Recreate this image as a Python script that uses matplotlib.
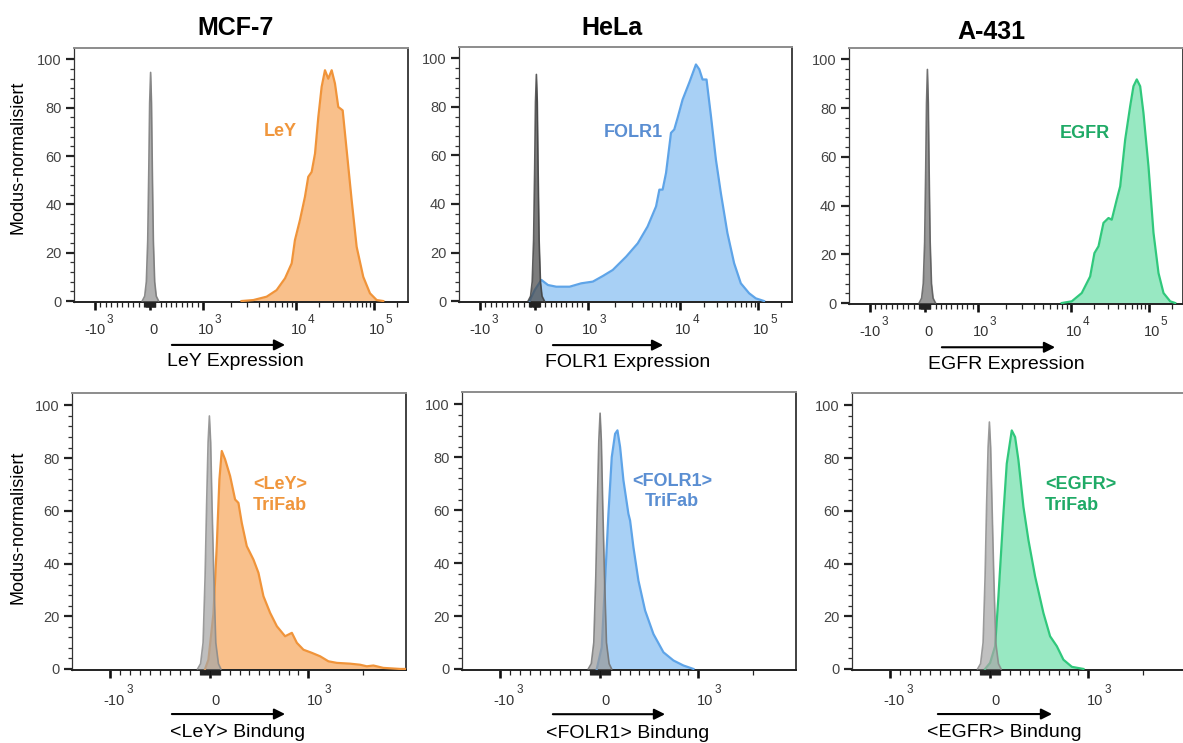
import numpy as np
import matplotlib
matplotlib.use("Agg")
import matplotlib.pyplot as plt
from matplotlib.ticker import FixedLocator

plt.rcParams["font.family"] = ["Liberation Sans", "DejaVu Sans"]

# ---- histogram data (fluorescence intensity vs. mode-normalised count) ----
# top row: surface antigen expression
MCF7_CTRL_X = [-140, -95, -65, -40, -20, -5, 13, 30, 45, 65, 90, 120, 165]
MCF7_CTRL_Y = [0, 2, 8, 25, 55, 82, 94.6, 82, 55, 25, 8, 2, 0]
MCF7_LEY_X = [2600, 3480, 4840, 6190, 7630, 9000, 9750, 11250, 13040, 14380,
              15890, 17550, 19330, 21340, 23550, 25950, 28700, 31620, 34860,
              39700, 44670, 51760, 60000, 72900, 88900, 108300, 131600]
MCF7_LEY_Y = [0, 0.4, 1.8, 4.5, 9.4, 15.6, 25.2, 33.5, 43.1, 51.4,
              53.4, 61, 76, 88.6, 95.5, 92, 95.5, 90, 80.3,
              78.9, 62.4, 41.7, 22.4, 10, 3.2, 0.4, 0]

HELA_CTRL_X = [-120, -75, -45, -20, 0, 15, 32, 49, 64, 84, 109, 139, 185]
HELA_CTRL_Y = [0, 2, 8, 25, 55, 82, 93.4, 82, 55, 25, 8, 2, 0]
HELA_FOLR1_X = [-94, 0, 126, 251, 409, 660, 881, 1140, 1460, 1870, 2610,
                3480, 4440, 5480, 5950, 6450, 7020, 7940, 8610, 9360, 10700,
                13040, 15890, 17550, 19330, 21740, 24790, 28700, 33220,
                40360, 49200, 60000, 76740, 93500, 119400]
HELA_FOLR1_Y = [0, 4.5, 8.7, 6.6, 5.9, 5.9, 7.3, 8, 10.3, 12.8, 18.3,
                23.8, 30.7, 39, 45.9, 45.9, 52.8, 69.3, 70.7, 75.5, 83,
                90, 97.5, 95.5, 91.3, 91.3, 76.2, 58.3, 44.5,
                28, 15.6, 7.3, 3.2, 1.1, 0]

A431_CTRL_X = [-105, -60, -30, -5, 15, 30, 47, 64, 79, 99, 124, 154, 200]
A431_CTRL_Y = [0, 2, 8, 25, 55, 82, 95.9, 82, 55, 25, 8, 2, 0]
A431_EGFR_X = [7960, 10240, 13750, 17620, 20000, 22550, 26120, 30280, 33340,
               38650, 42760, 49550, 57410, 63270, 69770, 77120, 84940, 98550,
               114300, 132500, 153600, 187100, 216900]
A431_EGFR_Y = [0, 0.7, 4.1, 10.9, 20.5, 23.3, 32.9, 34.9, 34.2,
               42.5, 47.9, 67.1, 80.8, 89, 91.8, 89, 78.1, 56.1,
               28.8, 12.3, 4.1, 0.7, 0]

# bottom row: TriFab binding
LEY_CTRL_X = [-125, -95, -70, -50, -35, -20, -7, 6, 20, 38, 58, 85, 110]
LEY_CTRL_Y = [0, 2, 10, 35, 62, 86, 96, 86, 62, 35, 10, 2, 0]
LEY_TRIFAB_X = [-50, -17, 34, 68, 95, 119, 153, 204, 255, 289, 323, 374, 442,
                493, 544, 612, 681, 765, 834, 885, 952, 1048, 1163, 1291,
                1435, 1696, 1924, 2093, 2275, 2577, 3184, 3390]
LEY_TRIFAB_Y = [0, 3.5, 21, 46.6, 71.9, 82.7, 79.5, 73.2, 64.3, 63, 55.4,
                46.6, 41.5, 36.5, 27.6, 21.3, 16.2, 12.4, 13.7, 9.9, 7.3,
                6.1, 4.8, 2.9, 2.3, 2.0, 1.6, 1.0, 1.3, 0.4, 0, 0]

FOLR1_CTRL_X = [-118, -88, -63, -43, -28, -13, 0, 13, 27, 45, 65, 92, 118]
FOLR1_CTRL_Y = [0, 2, 10, 35, 62, 86, 96.7, 86, 62, 35, 10, 2, 0]
FOLR1_TRIFAB_X = [-33, 17, 51, 85, 119, 153, 177, 204, 238, 289, 306, 340,
                  391, 459, 544, 646, 748, 850, 952]
FOLR1_TRIFAB_Y = [0, 8.2, 33.4, 58.6, 80.1, 88.9, 90.2, 83.9, 71.3, 58.6,
                  56.1, 46, 33.4, 22.1, 13.2, 6.3, 3.2, 1.3, 0]

EGFR_CTRL_X = [-125, -95, -70, -50, -35, -20, -7, 6, 20, 38, 58, 85, 112]
EGFR_CTRL_Y = [0, 2, 10, 35, 62, 84, 93.7, 84, 62, 35, 10, 2, 0]
EGFR_TRIFAB_X = [-50, 0, 51, 85, 136, 170, 221, 255, 289, 340, 391, 459, 544,
                 612, 681, 748, 834, 952]
EGFR_TRIFAB_Y = [0, 2.3, 8.6, 27.5, 59, 77.9, 90.5, 88, 79.2, 61.5, 48.9,
                 35.1, 21.2, 12.4, 8.6, 3.5, 0.8, 0]

CELL_LINES = ["MCF-7", "HeLa", "A-431"]
MARKERS = ["LeY", "FOLR1", "EGFR"]

# ---- biexponential-like x axis: linear within +-1e3, log outside ----
LIN = 1000.0


def warp(x):
    x = np.asarray(x, dtype=float)
    a = np.abs(x) / LIN
    return np.where(a <= 1, x / LIN, np.sign(x) * (1 + np.log10(np.maximum(a, 1))))


def unwarp(w):
    w = np.asarray(w, dtype=float)
    a = np.clip(np.abs(w), 0, 12)
    return np.where(a <= 1, w * LIN, np.sign(w) * LIN * 10 ** (np.maximum(a, 1) - 1))


def lerp(v, xp, fp):
    v = np.asarray(v, dtype=float)
    xp = np.asarray(xp, dtype=float)
    fp = np.asarray(fp, dtype=float)
    out = np.interp(v, xp, fp)
    lo = (fp[1] - fp[0]) / (xp[1] - xp[0])
    hi = (fp[-1] - fp[-2]) / (xp[-1] - xp[-2])
    out = np.where(v < xp[0], fp[0] + (v - xp[0]) * lo, out)
    out = np.where(v > xp[-1], fp[-1] + (v - xp[-1]) * hi, out)
    return out


def biex(anchor_vals, anchor_pos):
    wa = warp(anchor_vals)

    def fwd(x):
        return lerp(warp(x), wa, anchor_pos)

    def inv(p):
        return unwarp(lerp(p, anchor_pos, wa))

    return fwd, inv


TOP_SCALE = biex([-1000, 0, 1000, 1e4, 1e5], [21, 76, 129, 222, 300])
BOT_SCALE = biex([-1000, 0, 1000, 2000], [38, 138, 236, 291])
TOP_XLIM = (-2400, 2.73e5)
BOT_XLIM = (-2400, 3430)

small = list(range(10, 100, 10)) + list(range(100, 1000, 100))
# major ticks as (value, mantissa text, exponent text)
TOP_MAJOR = [(-1000, "-10", "3"), (0, "0", ""), (1000, "10", "3"),
             (1e4, "10", "4"), (1e5, "10", "5")]
TOP_MINOR = ([-v for v in small] + small + list(range(2000, 10000, 1000))
             + list(range(20000, 100000, 10000)) + [200000])
BOT_MAJOR = [(-1000, "-10", "3"), (0, "0", ""), (1000, "10", "3")]
BOT_MINOR = [-v for v in small] + small + [2000]

W, H = 1183, 743
fig = plt.figure(figsize=(W / 100, H / 100), dpi=100)


def rect(left, top, width, height):
    return [left / W, 1 - (top + height) / H, width / W, height / H]


AX_RECTS = [(74, 48, 334, 254), (459, 47, 333, 255), (849, 48, 334, 256),
            (72, 393, 334, 277), (462, 392, 334, 278), (852, 393, 334, 277)]

top_data = [
    (MCF7_CTRL_X, MCF7_CTRL_Y, MCF7_LEY_X, MCF7_LEY_Y),
    (HELA_CTRL_X, HELA_CTRL_Y, HELA_FOLR1_X, HELA_FOLR1_Y),
    (A431_CTRL_X, A431_CTRL_Y, A431_EGFR_X, A431_EGFR_Y),
]
bot_data = [
    (LEY_CTRL_X, LEY_CTRL_Y, LEY_TRIFAB_X, LEY_TRIFAB_Y),
    (FOLR1_CTRL_X, FOLR1_CTRL_Y, FOLR1_TRIFAB_X, FOLR1_TRIFAB_Y),
    (EGFR_CTRL_X, EGFR_CTRL_Y, EGFR_TRIFAB_X, EGFR_TRIFAB_Y),
]

FILL = ["#f9c08b", "#a8d0f5", "#98e8c2"]
EDGE = ["#f0943a", "#5ea4e8", "#30c87c"]
TEXT_C = ["#f0963c", "#5a8ed2", "#1faa66"]
GRAY_FILL = ["#909090", "#4a4a4a", "#707070", "#a6a6a6", "#9a9a9a", "#a8a8a8"]
GRAY_EDGE = ["#767676", "#404040", "#5a5a5a", "#8a8a8a", "#727272", "#8a8a8a"]

# (x, y) in axes fraction for the arrow and the axis caption
TOP_ARROWS = [(0.293, 0.632), (0.282, 0.613), (0.278, 0.617)]
BOT_ARROWS = [(0.299, 0.638), (0.272, 0.608), (0.257, 0.599)]
TOP_XLAB_X = [0.482, 0.507, 0.47]
BOT_XLAB_X = [0.496, 0.497, 0.455]
TOP_TAG = [(0.617, 0.673), (0.523, 0.665), (0.707, 0.665)]
BOT_TAG = [(0.623, 0.632, "center"), (0.629, 0.643, "center"), (0.578, 0.632, "left")]

# x tick label placement in pixels: (right edge of mantissa, offset of "0",
# mantissa baseline below spine, exponent baseline below spine)
TICKLAB_TOP = (11, 4, 32, 21)
TICKLAB_BOT = (15, 5, 35, 23)


def power_labels(ax, majors, place):
    right, zero_dx, base_dy, sup_dy = place
    for val, mant, exp in majors:
        if not exp:
            ax.annotate(mant, xy=(val, 0), xycoords=("data", "axes fraction"),
                        xytext=(zero_dx, -base_dy), textcoords="offset pixels",
                        ha="center", va="baseline", fontsize=10.5, color="#333333",
                        annotation_clip=False)
            continue
        ax.annotate(mant, xy=(val, 0), xycoords=("data", "axes fraction"),
                    xytext=(right, -base_dy), textcoords="offset pixels",
                    ha="right", va="baseline", fontsize=10.5, color="#333333",
                    annotation_clip=False)
        ax.annotate(exp, xy=(val, 0), xycoords=("data", "axes fraction"),
                    xytext=(right + 1, -sup_dy), textcoords="offset pixels",
                    ha="left", va="baseline", fontsize=8.5, color="#333333",
                    annotation_clip=False)


for i in range(6):
    row, col = divmod(i, 3)
    ax = fig.add_axes(rect(*AX_RECTS[i]))
    ax.set_xscale("function", functions=TOP_SCALE if row == 0 else BOT_SCALE)
    ax.set_xlim(*(TOP_XLIM if row == 0 else BOT_XLIM))
    ax.set_ylim(-0.4, 104.7)

    cx, cy, sx, sy = (top_data if row == 0 else bot_data)[col]
    ax.fill_between(sx, sy, 0, color=FILL[col], lw=0, zorder=2)
    ax.plot(sx, sy, color=EDGE[col], lw=1.6, zorder=3)
    ax.fill_between(cx, cy, 0, color=GRAY_FILL[i], alpha=0.72, lw=0, zorder=4)
    ax.plot(cx, cy, color=GRAY_EDGE[i], lw=1.2, alpha=0.85, zorder=5)

    # axes frame
    ax.spines["top"].set_color("#8c8c8c")
    ax.spines["top"].set_linewidth(1.4)
    ax.spines["right"].set_color("#333333")
    ax.spines["right"].set_linewidth(1.3)
    ax.spines["left"].set_color("#333333")
    ax.spines["left"].set_linewidth(0.9)
    ax.spines["bottom"].set_color("#222222")
    ax.spines["bottom"].set_linewidth(1.4)

    # y ticks
    ax.yaxis.set_major_locator(FixedLocator([0, 20, 40, 60, 80, 100]))
    ax.yaxis.set_minor_locator(FixedLocator([v for v in range(4, 100, 4) if v % 20]))
    ax.tick_params(axis="y", which="major", length=6, width=1.6, pad=3,
                   color="#222222", labelsize=10.5, labelcolor="#444444")
    ax.tick_params(axis="y", which="minor", length=3, width=0.9, color="#333333")

    # x ticks, labelled by hand as 10 with a raised exponent
    majors = TOP_MAJOR if row == 0 else BOT_MAJOR
    ax.xaxis.set_major_locator(FixedLocator([m[0] for m in majors]))
    ax.xaxis.set_minor_locator(FixedLocator(TOP_MINOR if row == 0 else BOT_MINOR))
    ax.tick_params(axis="x", which="major", length=6, width=1.9,
                   color="#111111", labelbottom=False)
    ax.tick_params(axis="x", which="minor", length=3.6, width=0.9, color="#222222")
    power_labels(ax, majors, TICKLAB_TOP if row == 0 else TICKLAB_BOT)

    # direction arrow and caption under the x axis
    x0, x1 = (TOP_ARROWS if row == 0 else BOT_ARROWS)[col]
    ay = -0.169 if row == 0 else -0.159
    ax.annotate("", xy=(x1, ay), xytext=(x0, ay), xycoords="axes fraction",
                annotation_clip=False,
                arrowprops=dict(arrowstyle="-|>", color="black", lw=1.5,
                                mutation_scale=16, shrinkA=0, shrinkB=0))
    if row == 0:
        cap = MARKERS[col] + " Expression"
        ax.text(TOP_XLAB_X[col], -0.236, cap, transform=ax.transAxes,
                ha="center", va="center", fontsize=14)
        tx, ty = TOP_TAG[col]
        ax.text(tx, ty, MARKERS[col], transform=ax.transAxes, ha="center",
                va="center", fontsize=13, fontweight="bold", color=TEXT_C[col])
    else:
        cap = "<" + MARKERS[col] + "> Bindung"
        ax.text(BOT_XLAB_X[col], -0.227, cap, transform=ax.transAxes,
                ha="center", va="center", fontsize=14)
        tx, ty, ha = BOT_TAG[col]
        ax.text(tx, ty, "<" + MARKERS[col] + ">\nTriFab", transform=ax.transAxes,
                ha=ha, va="center", fontsize=13, fontweight="bold",
                color=TEXT_C[col], multialignment="center" if ha == "center" else "left",
                linespacing=1.25)

    if col == 0:
        ly = 0.571 if row == 0 else 0.516
        lx = -0.168 if row == 0 else -0.162
        ax.text(lx, ly, "Modus-normalisiert", transform=ax.transAxes,
                rotation=90, ha="center", va="center", fontsize=13)

# cell line headers
for name, (px, py) in zip(CELL_LINES, [(236, 28), (612, 28), (991, 32)]):
    fig.text(px / W, 1 - py / H, name, ha="center", va="center",
             fontsize=18, fontweight="bold")

fig.savefig("out.png", dpi=100)
